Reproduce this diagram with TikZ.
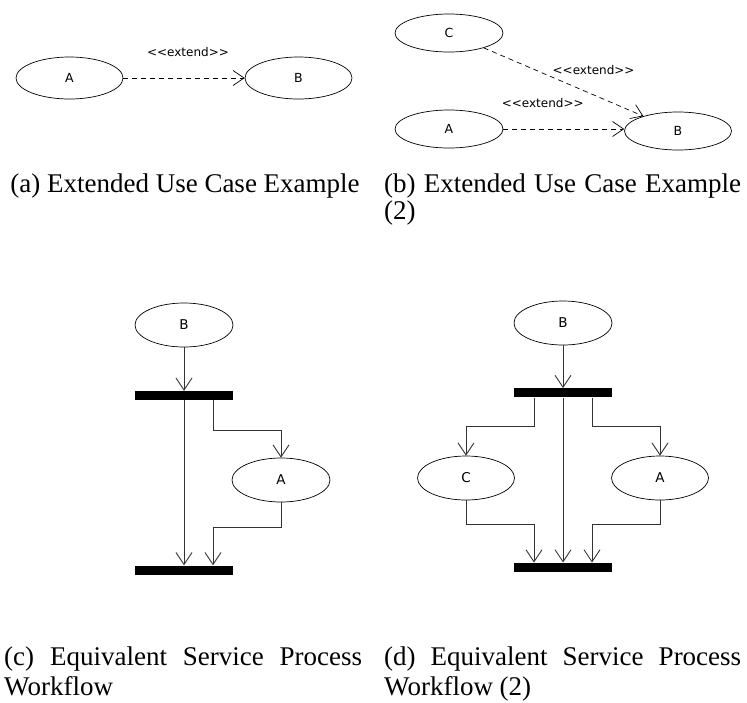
\documentclass[tikz,border=0pt]{standalone}
\usepackage{fontspec}
\setmainfont{Liberation Serif}
\newfontfamily\diagfont{DejaVu Sans}
\usetikzlibrary{arrows.meta, positioning, shapes.geometric}

\begin{document}
\begin{tikzpicture}[
    x=1pt, y=-1pt,
    usecase/.style={
        ellipse, draw=black, line width=0.7pt, inner sep=0pt,
        minimum width=107pt, minimum height=42pt,
        font=\diagfont\fontsize{12.5}{14}\selectfont
    },
    action/.style={
        ellipse, draw=black, line width=0.7pt, inner sep=0pt,
        minimum width=98pt, minimum height=44pt,
        font=\diagfont\fontsize{13.5}{15}\selectfont
    },
    syncbar/.style={rectangle, fill=black, inner sep=0pt, minimum width=98pt, minimum height=9pt},
    ext/.style={-{Straight Barb[length=11pt, width=15pt]}, line width=0.7pt, dash pattern=on 5pt off 4pt},
    flow/.style={-{Straight Barb[length=12pt, width=16pt]}, line width=0.9pt, black!80},
    lbl/.style={font=\diagfont\fontsize{12}{14}\selectfont, inner sep=0pt},
    caption/.style={font=\fontsize{27}{30}\selectfont, inner sep=0pt, align=justify, text width=357pt, anchor=base west},
]
\useasboundingbox (0,0) rectangle (747,702);
\tolerance=10000

% (a) one extend relation
\node[usecase] (aA) at (69.5,78) {A};
\node[usecase] (aB) at (298.5,78) {B};
\draw[ext] (aA) -- node[lbl, above=21pt, xshift=4pt] {<<extend>>} (aB);

% (b) two extend relations into B
\node[usecase, minimum width=108pt, minimum height=38pt] (bC) at (449,33) {C};
\node[usecase, minimum width=108pt, minimum height=38pt] (bA) at (449,129) {A};
\node[usecase, minimum width=107pt, minimum height=38pt] (bB) at (678,131) {B};
\draw[ext] (bC) -- node[lbl, xshift=30pt, yshift=12pt] {<<extend>>} (bB);
\draw[ext] (bA.east) -- node[lbl, above=21pt, xshift=-21pt] {<<extend>>} (bA.east -| bB.west);

% (c) workflow with one optional branch
\node[action] (cB) at (184,325) {B};
\node[syncbar] (cFork) at (184,395.5) {};
\node[action] (cA) at (281,480) {A};
\node[syncbar] (cJoin) at (184,570) {};
\draw[flow] (cB) -- (cFork);
\draw[flow] (cFork) -- (cJoin);
\draw[flow] ([xshift=29pt]cFork.south) -- ++(0,30) -| (cA.north);
\draw[flow] (cA.south) -- ++(0,25) -| ([xshift=29pt]cJoin.north);

% (d) workflow with two optional branches
\node[action] (dB) at (563,323) {B};
\node[syncbar] (dFork) at (563,392.8) {};
\node[action, minimum width=97pt] (dC) at (466,478) {C};
\node[action, minimum width=97pt] (dA) at (660,478) {A};
\node[syncbar] (dJoin) at (563,567.2) {};
\draw[flow] (dB) -- (dFork);
\draw[flow] (dFork) -- (dJoin);
\draw[flow] ([xshift=-29pt]dFork.south) -- ++(0,29.4) -| (dC.north);
\draw[flow] ([xshift=29pt]dFork.south) -- ++(0,29.4) -| (dA.north);
\draw[flow] (dC.south) -- ++(0,24) -| ([xshift=-29pt]dJoin.north);
\draw[flow] (dA.south) -- ++(0,24) -| ([xshift=29pt]dJoin.north);

% Captions
\node[font=\fontsize{27}{30}\selectfont, inner sep=0pt, anchor=base] (capA) at (185,192) {(a) Extended Use Case Example};
\node[caption, font=\fontsize{27}{27}\selectfont] (capB) at (384,192) {(b) Extended Use Case Example (2)};
\node[caption, text width=358pt] (capC) at (4,665) {(c) Equivalent Service Process Workflow};
\node[caption] (capD) at (384,665) {(d) Equivalent Service Process Workflow (2)};

\end{tikzpicture}
\end{document}
